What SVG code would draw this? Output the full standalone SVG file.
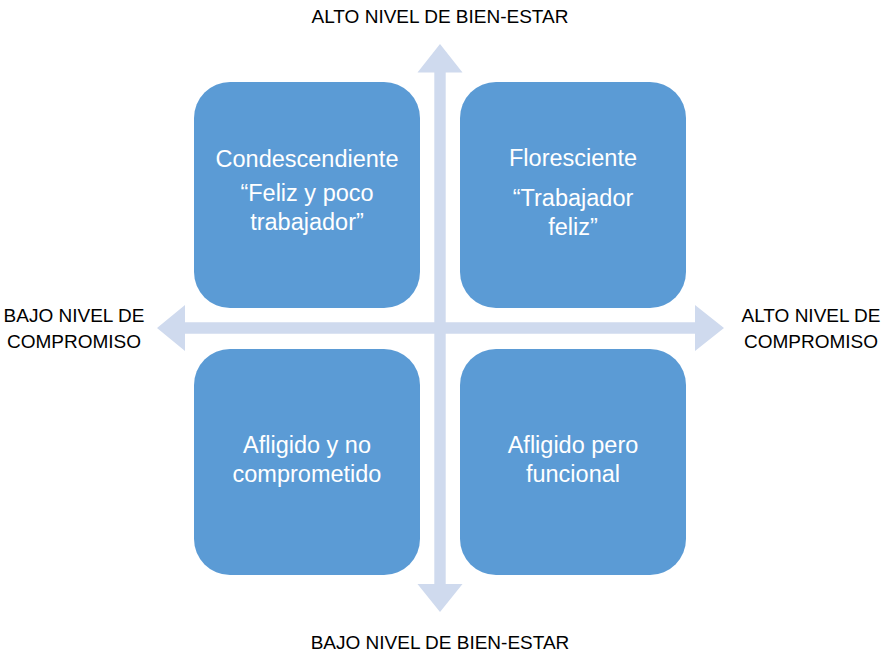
<svg xmlns="http://www.w3.org/2000/svg" width="890" height="654" viewBox="0 0 890 654">
  <style>
    .box { fill: #5B9BD5; }
    .btxt { font-family: "Liberation Sans", Arial, sans-serif; font-size: 23.5px; fill: #FFFFFF; text-anchor: middle; }
    .axis { font-family: "Liberation Sans", Arial, sans-serif; font-size: 19px; fill: #000000; text-anchor: middle; }
    .arrow { fill: #CFDAEE; }
  </style>
  <rect width="890" height="654" fill="#FFFFFF"/>
  <g id="connectors">
    <polygon class="arrow" points="157,328 185,305 185,322.3 695,322.3 695,305 724,328 695,351 695,333.7 185,333.7 185,351"/>
    <polygon class="arrow" points="440,44 462.5,72.5 445.7,72.5 445.7,584 462.5,584 440,612 417.5,584 434.3,584 434.3,72.5 417.5,72.5"/>
  </g>
  <g id="label-top">
    <text class="axis" x="440" y="22.5">ALTO NIVEL DE BIEN-ESTAR</text>
  </g>
  <g id="label-bottom">
    <text class="axis" x="440" y="649">BAJO NIVEL DE BIEN-ESTAR</text>
  </g>
  <g id="label-left">
    <text class="axis" x="74" y="322">BAJO NIVEL DE</text>
    <text class="axis" x="74" y="348">COMPROMISO</text>
  </g>
  <g id="label-right">
    <text class="axis" x="811" y="322">ALTO NIVEL DE</text>
    <text class="axis" x="811" y="348">COMPROMISO</text>
  </g>
  <g id="node-condescendiente">
    <rect class="box" x="194" y="82" width="226" height="226" rx="36" ry="36"/>
    <text class="btxt" x="307" y="167">Condescendiente</text>
    <text class="btxt" x="307" y="201">“Feliz y poco</text>
    <text class="btxt" x="307" y="230">trabajador”</text>
  </g>
  <g id="node-floresciente">
    <rect class="box" x="460" y="82" width="226" height="226" rx="36" ry="36"/>
    <text class="btxt" x="573" y="166">Floresciente</text>
    <text class="btxt" x="573" y="206">“Trabajador</text>
    <text class="btxt" x="573" y="235">feliz”</text>
  </g>
  <g id="node-afligido-no-comprometido">
    <rect class="box" x="194" y="349" width="226" height="226" rx="36" ry="36"/>
    <text class="btxt" x="307" y="453">Afligido y no</text>
    <text class="btxt" x="307" y="482">comprometido</text>
  </g>
  <g id="node-afligido-funcional">
    <rect class="box" x="460" y="349" width="226" height="226" rx="36" ry="36"/>
    <text class="btxt" x="573" y="453">Afligido pero</text>
    <text class="btxt" x="573" y="482">funcional</text>
  </g>
</svg>
